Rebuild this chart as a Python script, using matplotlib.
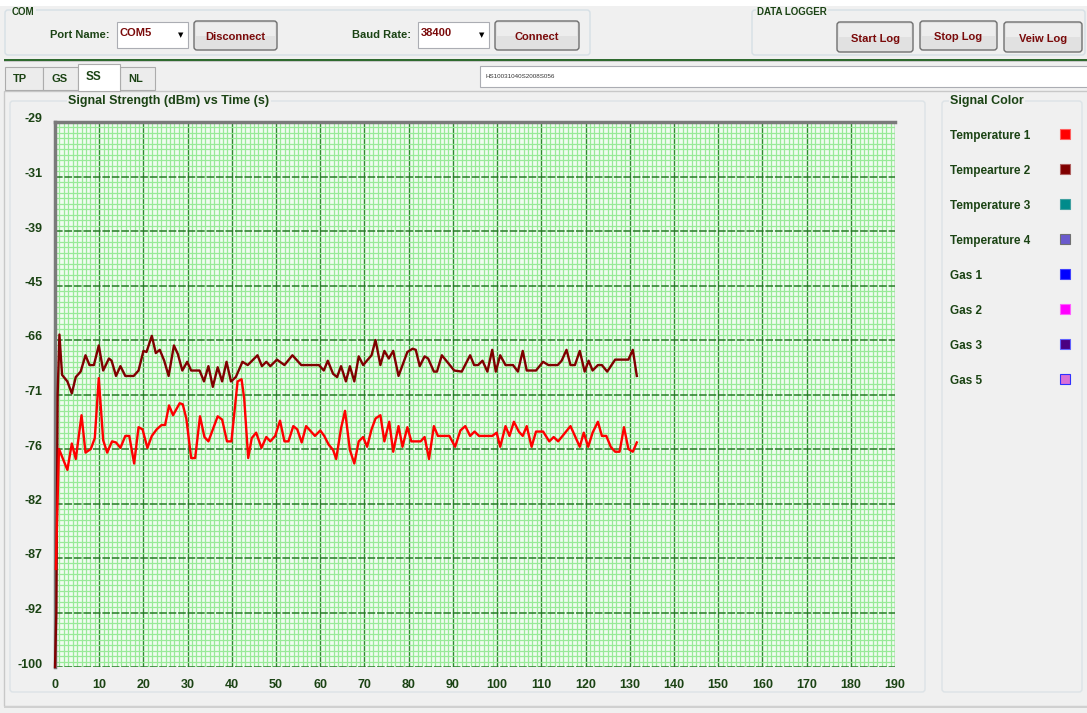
import numpy as np
import matplotlib
matplotlib.use("Agg")
import matplotlib.pyplot as plt
from matplotlib.patches import FancyBboxPatch, Rectangle
from matplotlib.transforms import IdentityTransform, ScaledTranslation

# signal strength readings (time in s, level in dBm)
temp2_time = [0, 0.3, 0.6, 1.0, 1.6, 2.8, 3.8, 4.7, 5.8, 6.9,
              7.8, 8.8, 9.9, 10.9, 12.2, 12.8, 13.8, 14.8, 15.9, 17.8,
              18.9, 20.0, 20.7, 21.9, 22.8, 23.7, 24.7, 25.7, 26.9, 27.8,
              28.8, 29.9, 30.8, 32.7, 33.7, 34.7, 35.7, 36.8, 37.8, 38.8,
              39.8, 40.9, 42.4, 43.6, 45.8, 46.8, 47.8, 48.7, 50.2, 51.9,
              53.7, 55.7, 59.7, 60.8, 61.7, 62.9, 63.8, 64.7, 65.8, 66.7,
              67.7, 68.7, 69.7, 71.6, 72.5, 73.6, 74.5, 75.5, 76.5, 77.7,
              79.7, 80.9, 81.6, 82.5, 83.6, 84.4, 85.7, 86.4, 87.5, 90.3,
              92.0, 93.9, 94.8, 95.7, 96.7, 97.8, 98.9, 99.7, 100.7, 101.9,
              103.6, 104.7, 105.8, 106.7, 108.8, 110.4, 111.6, 113.7, 114.6, 115.7,
              116.6, 117.6, 118.7, 119.8, 120.7, 121.6, 122.8, 123.7, 124.9, 126.7,
              129.7, 130.7, 131.6]
temp2_dbm = [-100, -92, -71, -63.9, -69.2, -69.8, -70.9, -69.4, -68.9, -67.4,
             -68.3, -68.3, -66.5, -68.8, -67.7, -67.9, -69.3, -68.4, -69.3, -69.3,
             -68.8, -67.0, -67.1, -64.4, -67.2, -66.9, -67.9, -69.3, -66.5, -67.3,
             -68.8, -68.0, -68.8, -68.8, -69.8, -68.4, -70.3, -68.5, -69.8, -68.0,
             -69.8, -69.4, -68.0, -68.3, -67.4, -68.4, -68.0, -68.4, -67.8, -68.3,
             -67.4, -68.3, -68.3, -68.8, -67.9, -69.1, -69.4, -68.4, -69.8, -68.4,
             -69.8, -67.5, -68.3, -67.4, -66.0, -68.3, -67.0, -67.7, -67.0, -69.3,
             -67.1, -66.8, -66.9, -68.4, -67.5, -67.7, -68.9, -68.9, -67.4, -68.8,
             -68.9, -67.4, -68.3, -68.3, -67.9, -68.9, -66.9, -68.9, -67.4, -68.3,
             -68.3, -68.9, -67.0, -68.8, -68.8, -68.0, -68.3, -68.3, -67.9, -66.9,
             -68.3, -68.3, -67.0, -68.9, -67.9, -68.8, -68.3, -68.3, -68.9, -67.8,
             -67.8, -66.9, -69.3]

temp1_time = [0.2, 0.5, 0.9, 2.8, 3.8, 4.7, 6.0, 6.9, 8.1, 9.0,
              9.9, 10.9, 11.8, 12.9, 13.8, 14.8, 15.9, 16.8, 17.9, 18.9,
              19.8, 20.9, 21.9, 23.0, 24.1, 24.9, 25.8, 26.7, 28.2, 28.9,
              29.7, 30.8, 31.7, 32.8, 33.8, 34.7, 36.8, 37.8, 38.9, 39.9,
              41.3, 42.2, 42.8, 43.7, 44.5, 45.5, 46.7, 47.8, 48.7, 49.8,
              50.9, 51.9, 52.8, 53.9, 54.8, 55.8, 56.8, 58.8, 60.0, 60.9,
              61.9, 62.9, 63.6, 64.7, 65.6, 66.7, 67.7, 68.7, 69.7, 70.6,
              71.6, 72.5, 73.6, 74.5, 75.6, 76.5, 77.7, 78.6, 79.7, 80.6,
              82.7, 83.6, 84.6, 85.7, 86.6, 89.2, 90.5, 91.7, 92.8, 93.9,
              94.9, 95.9, 98.9, 99.9, 100.7, 101.9, 102.8, 103.8, 104.9, 105.8,
              106.7, 107.8, 108.8, 110.4, 111.8, 112.8, 113.8, 116.6, 117.6, 118.7,
              119.6, 120.6, 121.6, 122.8, 123.7, 124.7, 125.7, 126.7, 127.7, 128.7,
              129.7, 130.7, 131.6]
temp1_dbm = [-88, -83, -76.0, -78.3, -75.5, -77.1, -72.9, -76.4, -76.0, -75.0,
             -69.5, -75.2, -76.4, -75.3, -75.4, -75.9, -74.8, -74.8, -77.6, -74.0,
             -74.2, -75.9, -74.8, -74.2, -73.8, -73.8, -72.0, -72.9, -71.8, -71.9,
             -73.2, -77.0, -77.0, -73.0, -74.9, -75.3, -73.0, -73.3, -75.3, -75.3,
             -69.8, -69.6, -71.4, -77.0, -75.0, -74.5, -75.9, -74.9, -75.3, -74.8,
             -73.4, -75.3, -75.3, -73.9, -74.2, -75.4, -73.9, -74.8, -74.3, -74.8,
             -75.6, -76.1, -77.1, -74.1, -72.5, -76.1, -77.6, -75.3, -74.9, -75.8,
             -74.2, -73.2, -72.9, -75.3, -73.5, -76.3, -73.9, -75.8, -74.0, -75.3,
             -75.3, -74.9, -77.1, -73.9, -74.8, -74.8, -75.8, -74.3, -73.9, -74.8,
             -74.4, -74.8, -74.8, -74.5, -75.8, -73.9, -74.8, -73.5, -74.4, -74.8,
             -73.9, -75.8, -74.4, -74.4, -75.3, -74.9, -75.3, -73.9, -74.8, -75.8,
             -74.5, -75.8, -74.5, -73.5, -74.8, -74.8, -75.8, -76.3, -76.3, -74.0,
             -76.0, -76.3, -75.4]

# the app labels its evenly spaced gridlines with these values
ytick_vals = [-100, -92, -87, -82, -76, -71, -66, -45, -39, -31, -29]
xticks = list(range(0, 191, 10))

legend_names = ["Temperature 1", "Tempearture 2", "Temperature 3", "Temperature 4",
                "Gas 1", "Gas 2", "Gas 3", "Gas 5"]
legend_colors = ["#FF0000", "#800000", "#008B8B", "#6A5ACD",
                 "#0000FF", "#FF00FF", "#4B0082", "#DA70D6"]
legend_edges = ["#FF6060", "#B06060", "#40A0A0", "#707070",
                "#4040FF", "#FF60FF", "#6060FF", "#3030FF"]

W, H = 1087, 713
GUI = ["Liberation Sans", "DejaVu Sans"]
ARIAL = ["Liberation Sans", "DejaVu Sans"]
GREEN_TXT = "#1B4314"
RED_TXT = "#7A0A0A"

fig = plt.figure(figsize=(W / 100, H / 100), dpi=100, facecolor="#F0F0F0")


def box(x0, y0, x1, y1, fc="none", ec="#D5DFE5", lw=1.0, r=3, z=1):
    p = FancyBboxPatch((x0, H - y1), x1 - x0, y1 - y0,
                       boxstyle=f"round,pad=0,rounding_size={r}",
                       fc=fc, ec=ec, lw=lw, zorder=z)
    p.set_transform(IdentityTransform())
    fig.add_artist(p)


def rect(x0, y0, x1, y1, fc, ec="none", lw=0, z=1):
    p = Rectangle((x0, H - y1), x1 - x0, y1 - y0, fc=fc, ec=ec, lw=lw, zorder=z)
    p.set_transform(IdentityTransform())
    fig.add_artist(p)


def txt(x, y, s, size=8, color=GREEN_TXT, family=GUI, ha="left", weight="bold", z=5, bg=None):
    kw = {}
    if bg:
        kw["bbox"] = dict(fc=bg, ec="none", pad=1)
    fig.text(x / W, 1 - y / H, s, fontsize=size, color=color, family=family,
             ha=ha, va="center", weight=weight, zorder=z, **kw)


def button(x0, y0, x1, y1, label):
    box(x0, y0, x1, y1, fc="#E1E1E1", ec="#707070", lw=1.0, r=3, z=2)
    rect(x0 + 2, y0 + 2, x1 - 2, (y0 + y1) / 2, fc="#EDEDED", z=2)
    txt((x0 + x1) / 2, (y0 + y1) / 2 + 2, label, size=8, color=RED_TXT, ha="center")


def combo(x0, y0, x1, y1, label):
    rect(x0, y0, x1, y1, fc="white", ec="#ABADB3", lw=0.8, z=2)
    txt(x0 + 3, (y0 + y1) / 2 - 2, label, size=8, color=RED_TXT)
    txt(x1 - 7, (y0 + y1) / 2, "\u25BC", size=5, color="black", family=["DejaVu Sans"], ha="center")


# top strip and connection controls
rect(0, 0, W, 6, fc="white", z=0)
box(5, 10, 590, 55, z=1)
txt(12, 12, "COM", size=7, bg="#F0F0F0")
txt(50, 35, "Port Name:", size=8)
combo(117, 22, 188, 48, "COM5")
button(194, 21, 277, 50, "Disconnect")
txt(352, 35, "Baud Rate:", size=8)
combo(418, 22, 489, 48, "38400")
button(495, 21, 579, 50, "Connect")

box(752, 10, 1085, 55, z=1)
txt(757, 12, "DATA LOGGER", size=7, bg="#F0F0F0")
button(837, 22, 913, 52, "Start Log")
button(920, 21, 997, 50, "Stop Log")
button(1004, 22, 1082, 52, "Veiw Log")

# separator line
rect(4, 59, W, 61, fc="#2F6A2F", z=1)
rect(4, 61, W, 62, fc="#C8C8C8", z=1)

# tabs
for (x0, x1, lab) in [(5, 43, "TP"), (43, 78, "GS"), (120, 155, "NL")]:
    rect(x0, 67, x1, 90, fc="#ECECEC", ec="#ACACAC", lw=0.8, z=2)
    txt(x0 + 8, 79, lab, size=8)
rect(78, 64, 120, 91, fc="white", ec="#ACACAC", lw=0.8, z=3)
txt(86, 77, "SS", size=8.5)
rect(480, 66, W + 2, 87, fc="white", ec="#ABADB3", lw=0.8, z=2)
txt(486, 76, "HS10031040S2008S056", size=4.5, color="#333333", weight="normal")

# tab page
rect(4, 91, W + 2, 706, fc="#F0F0F0", ec="#C8C8C8", lw=1.0, z=0.5)
rect(4, 706, W + 2, 708, fc="#D0D0D0", z=0.6)

# chart group box and legend group box
box(10, 101, 925, 692, ec="#DCE2E6", z=1)
txt(68, 101, "Signal Strength (dBm) vs Time (s)", size=9, family=ARIAL, bg="#F0F0F0")
box(942, 101, 1082, 692, ec="#DCE2E6", z=1)
txt(950, 101, "Signal Color", size=9, family=ARIAL, bg="#F0F0F0")
for i, (name, c, e) in enumerate(zip(legend_names, legend_colors, legend_edges)):
    y = 135 + i * 35.0
    txt(950, y + 1, name, size=8.5, family=ARIAL)
    rect(1060, y - 6, 1070, y + 4, fc=c, ec=e, lw=0.8, z=3)

# plot area
ax = fig.add_axes([55 / W, (H - 667) / H, 840 / W, 545 / H])
ax.set_zorder(4)
ax.set_facecolor("#F0FCF0")

pos = np.arange(len(ytick_vals))


def fwd(v):
    return np.interp(v, ytick_vals, pos)


def inv(p):
    return np.interp(p, pos, ytick_vals)


ax.set_yscale("function", functions=(fwd, inv))
ax.set_ylim(-100, -29)
ax.set_xlim(0, 190)

ax.set_xticks(xticks)
ax.set_xticklabels([str(v) for v in xticks])
ax.set_xticks(np.arange(0, 190, 1), minor=True)
ax.set_yticks(ytick_vals)
ax.set_yticklabels([str(v) for v in ytick_vals])
ax.set_yticks(inv(np.arange(0, 10.001, 0.1)), minor=True)

ax.grid(which="minor", color="#98EA98", lw=0.9)
ax.grid(which="major", axis="x", color="#2E8B2E", lw=1.0)
ax.grid(which="major", axis="y", color="#267A26", lw=1.1, ls=(0, (5, 1.2)))
ax.set_axisbelow(True)

ax.tick_params(which="both", length=0)
ax.tick_params(axis="x", pad=9, labelsize=9, labelcolor=GREEN_TXT)
ax.tick_params(axis="y", pad=9, labelsize=9, labelcolor=GREEN_TXT)
for lab in ax.get_xticklabels() + ax.get_yticklabels():
    lab.set_fontfamily(ARIAL)
    lab.set_fontweight("bold")
off = ScaledTranslation(0, 4 / 100, fig.dpi_scale_trans)
for t in ax.yaxis.get_major_ticks():
    t.label1.set_transform(t.label1.get_transform() + off)

for s in ["bottom", "right"]:
    ax.spines[s].set_visible(False)
for s in ["top", "left"]:
    ax.spines[s].set_color("#7A7A7A")
    ax.spines[s].set_linewidth(2.5)

ax.plot(temp2_time, temp2_dbm, color="#800000", lw=1.7, zorder=3, clip_on=False)
ax.plot(temp1_time, temp1_dbm, color="#FF0000", lw=1.7, zorder=3, clip_on=False)

fig.savefig("out.png", dpi=100, facecolor=fig.get_facecolor())
